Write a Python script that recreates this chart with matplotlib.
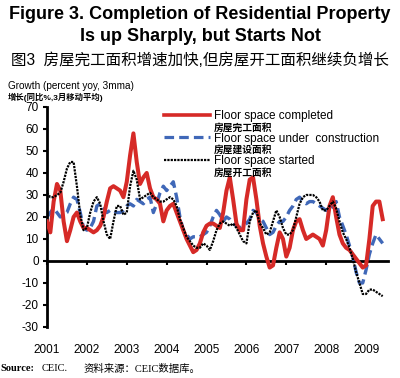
import numpy as np
import matplotlib
matplotlib.use("Agg")
import matplotlib.pyplot as plt
from matplotlib.lines import Line2D

# Monthly 3mma yoy growth, Jan 2001 - Jun 2009
completed = [18, 13, 27, 35, 32, 18, 9, 14, 20, 22, 18, 15,
             15, 14, 13, 14, 16, 20, 27, 33, 34, 33, 32, 29,
             36, 48, 58, 45, 35, 38, 40, 33, 29, 28, 26, 18,
             23, 25, 26, 22, 18, 14, 10, 7, 4, 5, 8, 13,
             16, 17, 17, 16, 15, 22, 32, 38, 28, 17, 14, 14,
             28, 37, 38, 28, 16, 8, 2, -3, -2, 6, 13, 10,
             2, 6, 14, 18, 19, 14, 10, 11, 12, 11, 10, 7,
             14, 25, 29, 20, 12, 8, 6, 5, 3, 1, -1, -3,
             -2, 10, 25, 27, 27, 19]
under_construction = [20, 22, 24, 22, 20, 21, 22, 26, 29, 28, 22, 15,
                      14, 15, 18, 25, 26, 24, 22, 23, 23, 22, 22, 23,
                      25, 26, 25, 28, 27, 26, 28, 29, 22, 26, 31, 34,
                      32, 34, 36, 29, 20, 14, 12, 10, 11, 11, 11, 12,
                      13, 16, 20, 23, 21, 18, 20, 19, 17, 16, 15, 16,
                      17, 19, 23, 22, 19, 18, 15, 12, 13, 16, 18, 18,
                      20, 23, 25, 28, 29, 27, 26, 27, 27, 26, 25, 24,
                      23, 23, 25, 27, 20, 16, 12, 7, 2, -5, -10, -10,
                      -4, 3, 8, 12, 10, 8]
started = [31, 29, 29, 30, 31, 36, 42, 45, 45, 34, 21, 14,
           15, 22, 27, 29, 26, 18, 12, 10, 18, 25, 25, 21,
           22, 34, 41, 37, 28, 29, 30, 31, 29, 28, 27, 27,
           28, 29, 28, 25, 19, 15, 11, 9, 7, 6, 6, 8,
           7, 5, 9, 14, 17, 18, 17, 16, 17, 15, 12, 9,
           8, 18, 22, 23, 17, 15, 12, 13, 18, 23, 20, 15,
           12, 12, 14, 20, 26, 29, 30, 30, 30, 29, 27, 23,
           23, 25, 27, 24, 18, 13, 10, 6, 1, -5, -10, -15,
           -15, -13, -13, -14, -15, -16]
years = list(range(2001, 2010))
yticks = list(range(-30, 71, 10))

x = 2001 + np.arange(len(completed)) / 12.0

cjk = ['Liberation Sans', 'Noto Sans CJK SC']
red = '#d62a27'
blue = '#4068b8'

fig = plt.figure(figsize=(4.0, 3.78), dpi=100)
ax = fig.add_axes([0.1175, 0.135, 0.8525, 0.582])

ax.plot(x, completed, color=red, lw=2.9, solid_joinstyle='round', zorder=3)
ax.plot(x, under_construction, color=blue, lw=2.4, dashes=(3, 1.5), zorder=2)
ax.plot(x, started, color='black', lw=1.6, dashes=(1, 0.5), zorder=4)

ax.set_xlim(2001, 2009.55)
ax.set_ylim(-30, 70)
ax.set_yticks(yticks)
ax.set_yticklabels([str(v) for v in yticks], family='Liberation Sans', fontsize=8.5)
ax.set_xticks(years)
ax.set_xticklabels([str(v) for v in years], family='Liberation Sans', fontsize=8.5)
ax.tick_params(axis='x', length=0, pad=12)
ax.tick_params(axis='y', direction='out', length=3, width=1.5, pad=3)
for s in ['top', 'right', 'bottom']:
    ax.spines[s].set_visible(False)
ax.spines['left'].set_linewidth(2)

# x axis line at zero with year ticks
sec = ax.secondary_xaxis(0.3)
sec.set_xticks(years)
sec.set_xticklabels([])
sec.tick_params(axis='x', direction='out', length=3, width=1.5)
sec.spines['bottom'].set_linewidth(2)

# legend
handles = [Line2D([], [], color=red, lw=2.6), Line2D([], [], color='none'),
           Line2D([], [], color=blue, lw=2.3, dashes=(3, 1.6)), Line2D([], [], color='none'),
           Line2D([], [], color='black', lw=1.6, dashes=(1, 0.5)), Line2D([], [], color='none')]
labels = ['Floor space completed', '房屋完工面积',
          'Floor space under  construction', '房屋建设面积',
          'Floor space started', '房屋开工面积']
leg = fig.legend(handles, labels, loc='upper left', bbox_to_anchor=(0.395, 0.725),
                 frameon=False, handlelength=3.9, handletextpad=0.35,
                 labelspacing=0.02, borderpad=0, prop={'family': cjk, 'size': 8.5})
for i, t in enumerate(leg.get_texts()):
    if i % 2 == 1:
        t.set_fontsize(7)
        t.set_fontweight('bold')

# titles
fig.text(0.5, 0.962, 'Figure 3. Completion of Residential Property', ha='center', va='center',
         family='Liberation Sans', fontweight='bold', fontsize=13)
fig.text(0.5, 0.903, 'Is up Sharply, but Starts Not', ha='center', va='center',
         family='Liberation Sans', fontweight='bold', fontsize=13)
fig.text(0.5, 0.84, '图3  房屋完工面积增速加快,但房屋开工面积继续负增长', ha='center', va='center',
         family=cjk, fontsize=11.2)
fig.text(0.02, 0.772, 'Growth (percent yoy, 3mma)', ha='left', va='center',
         family='Liberation Sans', fontsize=7.2)
fig.text(0.02, 0.743, '增长(同比%,3月移动平均)', ha='left', va='center',
         family=cjk, fontsize=6, fontweight='bold')

# source line
fig.text(0.0, 0.024, 'Source:', ha='left', va='center', family='Liberation Serif',
         fontweight='bold', fontsize=7.5)
fig.text(0.105, 0.024, 'CEIC.', ha='left', va='center', family='Liberation Serif', fontsize=7.5)
fig.text(0.21, 0.024, '资料来源：CEIC数据库。', ha='left', va='center',
         family=['Liberation Serif', 'Noto Sans CJK SC'], fontsize=7.5)

fig.savefig('out.png', dpi=100)
